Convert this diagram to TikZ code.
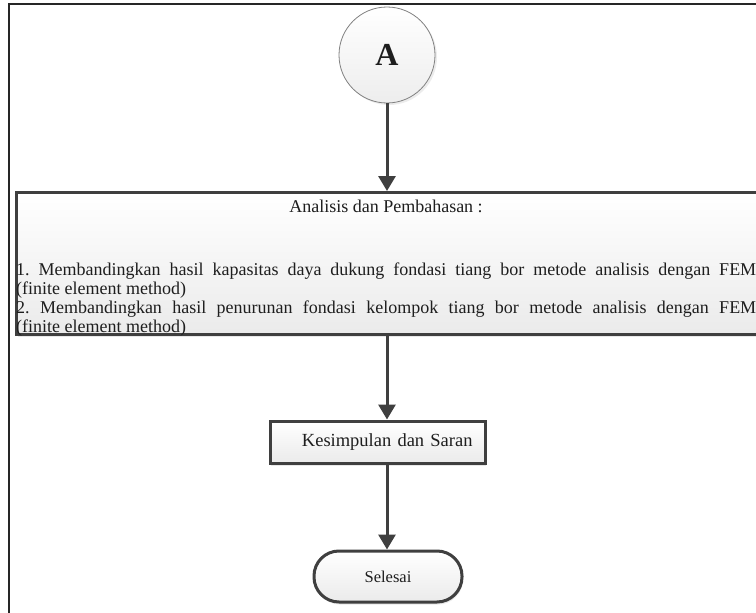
\documentclass[tikz,border=0pt]{standalone}
\usepackage{fontspec}
\setmainfont{Liberation Serif}
\usetikzlibrary{arrows.meta,shadows}

\definecolor{garis}{HTML}{3F3F3F}
\definecolor{teks}{HTML}{1E1E1E}

\begin{document}
\frenchspacing
\begin{tikzpicture}[x=1pt,y=-1pt,
	every node/.style={text=teks,font=\fontsize{18}{18.8}\selectfont},
	kotak/.style={draw=garis,line width=3pt,top color=white,bottom color=gray!16,
		drop shadow={opacity=0.18,shadow xshift=1pt,shadow yshift=-2.5pt}},
	panah/.style={draw=garis,line width=3pt,-{Triangle[length=15pt,width=17pt]}}]

\useasboundingbox (0,0) rectangle (756,613);
\clip (0,0) rectangle (756,613);
\fill[white] (0,0) rectangle (756,613);
\draw[line width=2pt,black!85] (9,700) -- (9,4) -- (800,4);

\node[circle,draw=gray,line width=0.8pt,minimum size=96pt,inner sep=0pt,
	top color=white,bottom color=gray!14,
	drop shadow={opacity=0.15,shadow xshift=2pt,shadow yshift=-2pt}]
	(A) at (387,55) {\fontsize{32}{32}\selectfont\bfseries A};

\node[kotak,minimum width=760pt,minimum height=142pt,inner sep=0pt,anchor=north west]
	(analisis) at (15,191) {};
\node (judul) at (386,206) {Analisis dan Pembahasan :};
\node[text width=740pt,align=justify,inner sep=0pt,anchor=north west] (isi) at (16,263)
	{1. Membandingkan hasil kapasitas daya dukung fondasi tiang bor metode analisis dengan FEM\linebreak
	(finite element method)\par
	2. Membandingkan hasil penurunan fondasi kelompok tiang bor metode analisis dengan FEM\linebreak
	(finite element method)};

\node[kotak,text width=190pt,align=right,inner xsep=12.5pt,minimum height=42pt,
	font=\fontsize{18.5}{18.5}\selectfont] (kesimpulan) at (377.5,442) {Kesimpulan dan Saran};

\node[kotak,rounded corners=25pt,minimum width=148pt,minimum height=51pt,
	font=\fontsize{16.5}{16.5}\selectfont] (selesai) at (388,576.5) {Selesai};

\draw[panah] (A) -- (A |- analisis.north);
\draw[panah] (analisis.south -| A) -- (kesimpulan.north -| A);
\draw[panah] (kesimpulan.south -| A) -- (selesai.north -| A);
\end{tikzpicture}
\end{document}
